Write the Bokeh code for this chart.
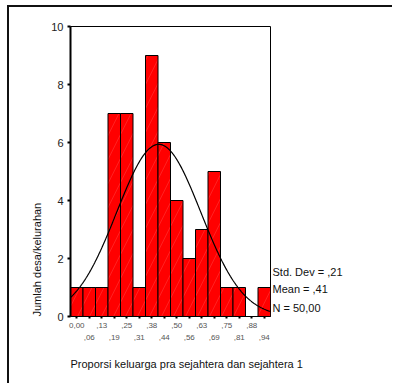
import numpy as np
from bokeh.plotting import figure
from bokeh.models import Range1d, FixedTicker, LinearAxis, Title
from bokeh.embed import file_html
from bokeh.resources import INLINE

# ---- data ----
bin_centers = [0.0, 0.0625, 0.125, 0.1875, 0.25, 0.3125, 0.375, 0.4375,
               0.5, 0.5625, 0.625, 0.6875, 0.75, 0.8125, 0.875, 0.9375]
tick_labels = ["0,00", ",06", ",13", ",19", ",25", ",31", ",38", ",44",
               ",50", ",56", ",63", ",69", ",75", ",81", ",88", ",94"]
counts = [1, 1, 1, 7, 7, 1, 9, 6, 4, 2, 3, 5, 1, 1, 0, 1]
bin_width = 0.0625
mean_val = 0.41
std_val = 0.21
n_val = 50
y_ticks = [0, 2, 4, 6, 8, 10]
stats_text = ["Std. Dev = ,21", "Mean = ,41", "N = 50,00"]
y_title = "Jumlah desa/kelurahan"
x_title = "Proporsi keluarga pra sejahtera dan sejahtera 1"

FONT = "Liberation Sans"
x0 = bin_centers[0] - bin_width / 2
x1 = bin_centers[-1] + bin_width / 2

p = figure(width=385, height=378, output_backend="svg", toolbar_location=None,
           x_range=Range1d(x0, x1), y_range=Range1d(0, 10),
           min_border_left=61, min_border_right=124,
           min_border_top=19, min_border_bottom=69)
p.margin = (5, 0, 0, 7)
p.styles = {"border-left": "2px solid #111", "border-top": "2px solid #111"}
p.background_fill_color = "white"
p.border_fill_color = "white"
p.outline_line_color = "black"
p.outline_line_width = 1
p.xgrid.visible = False
p.ygrid.visible = False

# bars
idx = [i for i, c in enumerate(counts) if c > 0]
p.quad(left=[bin_centers[i] - bin_width / 2 for i in idx],
       right=[bin_centers[i] + bin_width / 2 for i in idx],
       top=[counts[i] for i in idx], bottom=0,
       fill_color="#ff0000", line_color="black", line_width=1,
       hatch_pattern="/", hatch_color="white", hatch_alpha=0.25,
       hatch_scale=24, hatch_weight=0.5)

# normal curve from the chart's statistics
xs = np.linspace(x0, x1, 300)
ys = n_val * bin_width / (std_val * np.sqrt(2 * np.pi)) * np.exp(-0.5 * ((xs - mean_val) / std_val) ** 2)
p.line(xs, ys, line_color="black", line_width=1.2)

# y axis
p.yaxis.ticker = FixedTicker(ticks=y_ticks)
p.yaxis.minor_tick_line_color = None
p.yaxis.axis_line_width = 2
p.yaxis.axis_line_color = "black"
p.yaxis.major_tick_in = 0
p.yaxis.major_tick_out = 3
p.yaxis.major_tick_line_width = 2
p.yaxis.major_label_standoff = 4
p.yaxis.major_label_text_font = FONT
p.yaxis.major_label_text_font_size = "11px"
p.yaxis.major_label_text_color = "#222222"

# x axis: first row of labels (even bins)
p.xaxis.ticker = FixedTicker(ticks=bin_centers)
p.xaxis.minor_tick_line_color = None
p.xaxis.axis_line_color = "black"
p.xaxis.axis_line_width = 1
p.xaxis.major_tick_in = 0
p.xaxis.major_tick_out = 2
p.xaxis.major_tick_line_width = 2
p.xaxis.major_label_standoff = 4
p.xaxis.major_label_text_font = FONT
p.xaxis.major_label_text_font_size = "8px"
p.xaxis.major_label_text_color = "#555555"
p.xaxis.major_label_overrides = {c: (t if i % 2 == 0 else "")
                                 for i, (c, t) in enumerate(zip(bin_centers, tick_labels))}

# second row of labels (odd bins)
ax2 = LinearAxis(ticker=FixedTicker(ticks=bin_centers),
                 major_label_overrides={c: (t if i % 2 == 1 else "")
                                        for i, (c, t) in enumerate(zip(bin_centers, tick_labels))},
                 axis_line_color=None, major_tick_line_color=None, minor_tick_line_color=None,
                 major_tick_in=0, major_tick_out=0, major_label_standoff=4,
                 major_label_text_font=FONT, major_label_text_font_size="8px",
                 major_label_text_color="#555555")
p.add_layout(ax2, "below")

# x title
p.add_layout(Title(text=x_title, align="left", standoff=27, text_font=FONT,
                   text_font_size="11px", text_font_style="normal",
                   text_color="#111111"), "below")

# y title
p.add_layout(Title(text=y_title, align="left", standoff=11, text_font=FONT,
                   text_font_size="11px", text_font_style="normal",
                   text_color="#111111"), "left")

# statistics as a right-hand label axis
stat_pos = [1.55, 0.95, 0.31]
ax3 = LinearAxis(ticker=FixedTicker(ticks=stat_pos),
                 major_label_overrides={v: t for v, t in zip(stat_pos, stats_text)},
                 axis_line_color=None, major_tick_line_color=None, minor_tick_line_color=None,
                 major_tick_in=0, major_tick_out=0, major_label_standoff=2,
                 major_label_text_font=FONT, major_label_text_font_size="11px",
                 major_label_text_color="#111111")
p.add_layout(ax3, "right")

open("out.html", "w").write(file_html(p, INLINE))
